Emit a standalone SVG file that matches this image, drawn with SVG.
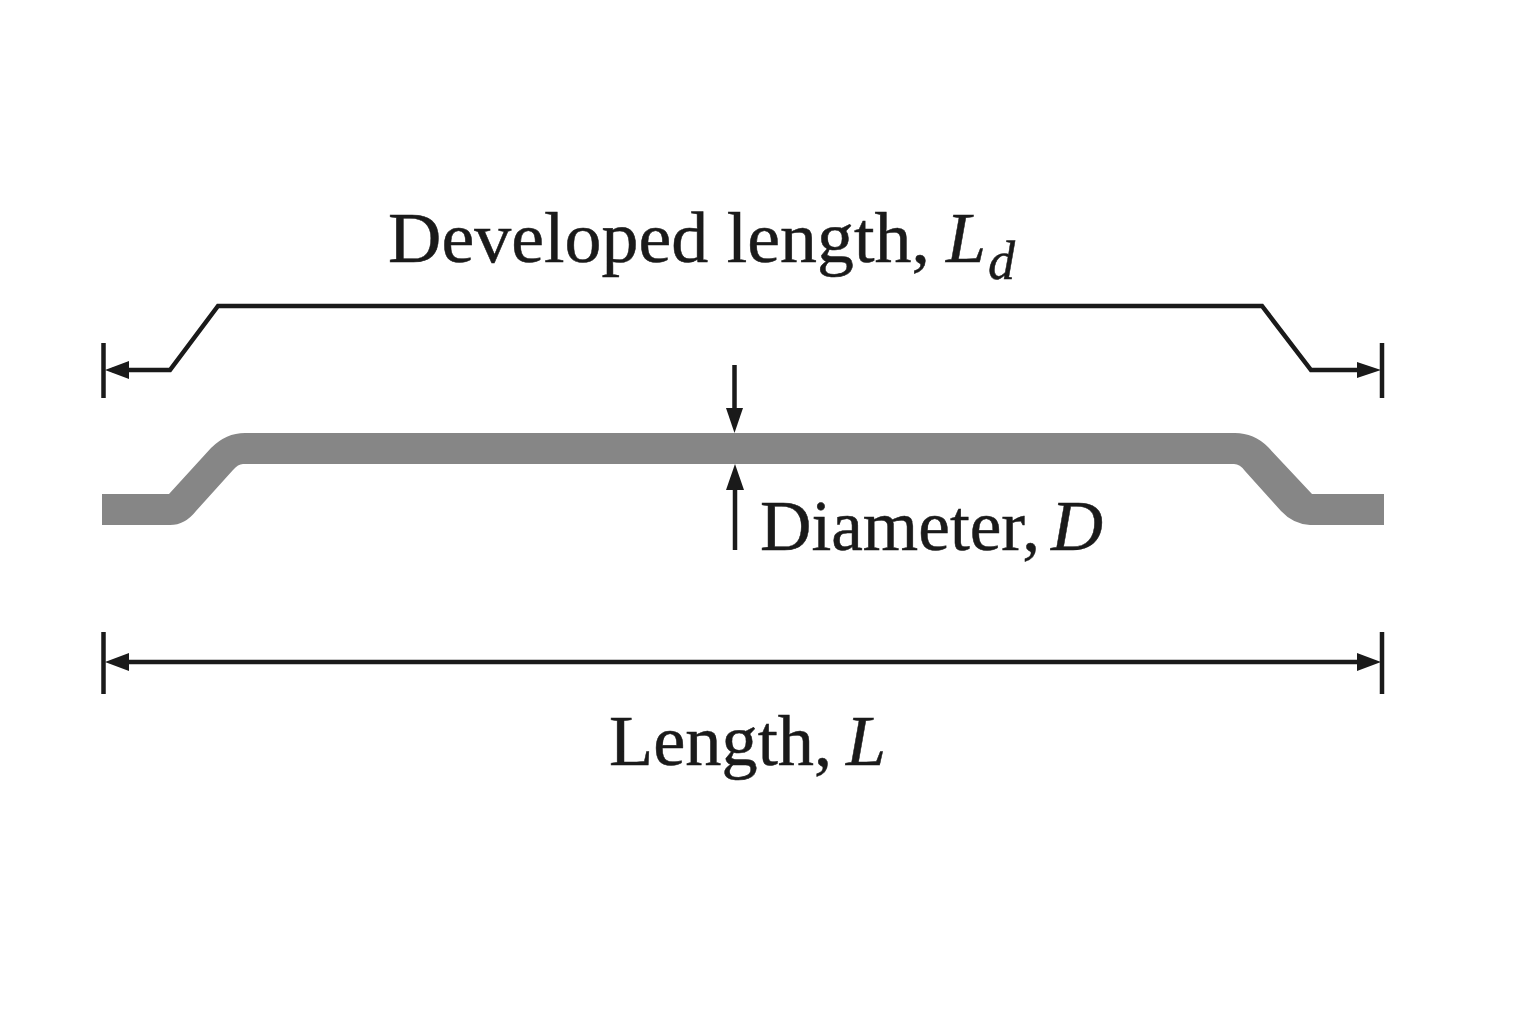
<svg xmlns="http://www.w3.org/2000/svg" width="1536" height="1024" viewBox="0 0 1536 1024">
<style>
.t{font-family:"Liberation Serif","Times New Roman",serif;fill:#1a1a1a;stroke:#1a1a1a;stroke-width:0.500}
.l{fill:none;stroke:#1a1a1a;stroke-width:4.500;stroke-linejoin:miter}
.h{fill:#1a1a1a}
.tick{stroke:#1a1a1a;stroke-width:4.500}
</style>
<rect width="1536" height="1024" fill="#fff"/>
<g id="rod"><path d="M102 494H169L211 448Q226 433 245 433H1235Q1254 433 1268 447L1312 494H1384V525H1310Q1293 524 1281 511L1245 471Q1240 464 1234 464H243Q238 464 233 470L196 511Q185 525 170 525H102Z" fill="#868686"/></g>
<g id="connectors">
<path class="l" d="M112 370H170L218 306H1262L1311 370H1372"/>
<path class="h" d="M105 370L129 361V379ZM1381 370L1357 362V378Z"/>
<line class="tick" x1="103.500" y1="343" x2="103.500" y2="398"/>
<line class="tick" x1="1382" y1="343" x2="1382" y2="398"/>
<line class="l" x1="120" y1="662" x2="1366" y2="662"/>
<path class="h" d="M105 662L129 653V671ZM1381 662L1357 653V671Z"/>
<line class="tick" x1="103.500" y1="632" x2="103.500" y2="694"/>
<line class="tick" x1="1382" y1="632" x2="1382" y2="694"/>
<line class="l" x1="734.500" y1="365" x2="734.500" y2="415"/>
<path class="h" d="M734.500 433L726 408H743Z"/>
<line class="l" x1="735" y1="485" x2="735" y2="550"/>
<path class="h" d="M735 464L726 490H744Z"/>
</g>
<g id="label-developed"><text class="t" x="388" y="262" font-size="72" textLength="542" lengthAdjust="spacingAndGlyphs">Developed length,</text><text class="t" x="946" y="262" font-size="72" font-style="italic">L</text><text class="t" x="988" y="279" font-size="54" font-style="italic">d</text></g>
<g id="label-diameter"><text class="t" x="760" y="550" font-size="72" textLength="280" lengthAdjust="spacingAndGlyphs">Diameter,</text><text class="t" x="1051" y="550" font-size="72" font-style="italic">D</text></g>
<g id="label-length"><text class="t" x="609" y="765" font-size="72" textLength="223" lengthAdjust="spacingAndGlyphs">Length,</text><text class="t" x="846" y="765" font-size="72" font-style="italic">L</text></g>
</svg>
